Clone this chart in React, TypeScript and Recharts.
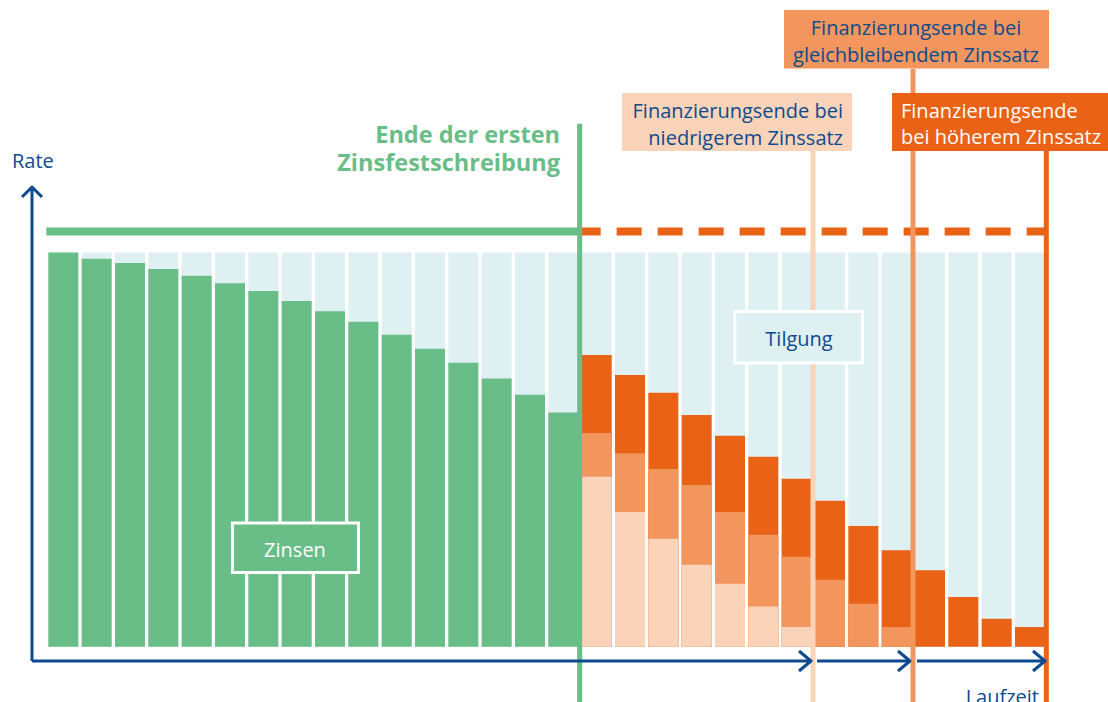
import { Bar, ComposedChart, ReferenceLine, XAxis, YAxis } from "recharts";

const BLUE = "#0d4a8f";
const GREEN = "#69bd87";
const SKY = "#dff0f3";
const ORANGE_DARK = "#e96216";
const ORANGE_MID = "#f3965d";
const ORANGE_LIGHT = "#fbd3b8";
const FONT = "'Open Sans', Lato, sans-serif";

// Jahre der Laufzeit
const YEARS = [
  "1", "2", "3", "4", "5", "6", "7", "8", "9", "10",
  "11", "12", "13", "14", "15", "16", "17", "18", "19", "20",
  "21", "22", "23", "24", "25", "26", "27", "28", "29", "30",
];

// Rate (Zinsen + Tilgung) = 100 je Jahr
const RATE = [
  100, 100, 100, 100, 100, 100, 100, 100, 100, 100,
  100, 100, 100, 100, 100, 100, 100, 100, 100, 100,
  100, 100, 100, 100, 100, 100, 100, 100, 100, 100,
];

// Zinsanteil bis Ende der ersten Zinsfestschreibung
const ZINSEN = [
  100, 98.4, 97.3, 95.8, 94.1, 92.2, 90.2, 87.7, 85.1, 82.4,
  79.1, 75.6, 72.0, 68.0, 63.9, 59.4, null, null, null, null,
  null, null, null, null, null, null, null, null, null, null,
];

// Zinsanteil nach Anschlussfinanzierung
const ZINS_HOCH = [
  null, null, null, null, null, null, null, null, null, null,
  null, null, null, null, null, null, 74.0, 68.9, 64.4, 58.8,
  53.5, 48.2, 42.6, 37.0, 30.6, 24.5, 19.4, 12.6, 7.1, 5.0,
];
const ZINS_GLEICH = [
  null, null, null, null, null, null, null, null, null, null,
  null, null, null, null, null, null, 54.2, 49.1, 45.1, 41.0,
  34.2, 28.4, 22.8, 17.0, 10.9, 5.0, null, null, null, null,
];
const ZINS_NIEDRIG = [
  null, null, null, null, null, null, null, null, null, null,
  null, null, null, null, null, null, 43.1, 34.2, 27.4, 20.8,
  16.0, 10.2, 5.0, null, null, null, null, null, null, null,
];

const RATE_LEVEL = 105.3;
const FIRST = "1";
const FIX_END = "16";
const END_LOW = "23";
const END_SAME = "26";
const END_HIGH = "30";

const data = YEARS.map((year, i) => ({
  year,
  rate: RATE[i],
  zinsen: ZINSEN[i],
  hoch: ZINS_HOCH[i],
  gleich: ZINS_GLEICH[i],
  niedrig: ZINS_NIEDRIG[i],
}));

function Overlay() {
  const txt = { fontFamily: FONT, fontSize: 20 };
  return (
    <svg
      width={1108}
      height={702}
      style={{ position: "absolute", left: 0, top: 0, pointerEvents: "none" }}
    >
      {/* Achsen */}
      <g stroke={BLUE} strokeWidth={3} fill="none" strokeLinejoin="round">
        <path d="M32,661 L32,187 M22,197 L32,187 L42,197" />
        <path d="M32,661 L811,661 M799,651 L811,661 L799,671" />
        <path d="M817,661 L910,661 M898,651 L910,661 L898,671" />
        <path d="M917,661 L1045,661 M1033,651 L1045,661 L1033,671" />
      </g>
      <text x={12} y={168} fill={BLUE} {...txt}>Rate</text>
      <text x={1039} y={704} fill={BLUE} textAnchor="end" {...txt}>Laufzeit</text>

      <g fill={GREEN} fontFamily={FONT} fontSize={23.5} fontWeight={700} textAnchor="end">
        <text x={560} y={143}>Ende der ersten</text>
        <text x={560} y={171}>Zinsfestschreibung</text>
      </g>

      <rect x={622} y={93} width={230} height={58} fill={ORANGE_LIGHT} />
      <g fill={BLUE} textAnchor="end" {...txt}>
        <text x={843} y={118}>Finanzierungsende bei</text>
        <text x={843} y={144.5}>niedrigerem Zinssatz</text>
      </g>

      <rect x={784} y={10} width={265} height={58.5} fill={ORANGE_MID} />
      <g fill={BLUE} textAnchor="middle" {...txt}>
        <text x={916} y={34.5}>Finanzierungsende bei</text>
        <text x={916} y={61.5}>gleichbleibendem Zinssatz</text>
      </g>

      <rect x={892} y={93} width={216} height={58} fill={ORANGE_DARK} />
      <g fill="#ffffff" {...txt}>
        <text x={901} y={117.5}>Finanzierungsende</text>
        <text x={901} y={143.5}>bei höherem Zinssatz</text>
      </g>

      <rect x={232.5} y={523} width={126} height={49.5} fill={GREEN} stroke="#ffffff" strokeWidth={3} />
      <text x={295} y={557} fill="#ffffff" textAnchor="middle" {...txt}>Zinsen</text>

      <rect x={734.8} y={311.5} width={127.7} height={51.3} fill={SKY} stroke="#ffffff" strokeWidth={3} />
      <text x={799} y={345.5} fill={BLUE} textAnchor="middle" {...txt}>Tilgung</text>
    </svg>
  );
}

export default function App() {
  return (
    <div style={{ position: "absolute", left: 0, top: 0, width: 1108, height: 702, background: "#fff" }}>
      <ComposedChart
        width={1108}
        height={702}
        data={data}
        margin={{ top: 0, right: 61.67, bottom: 0, left: 46.33 }}
      >
        <XAxis xAxisId="bg" dataKey="year" hide />
        <XAxis xAxisId="z" dataKey="year" hide />
        <XAxis xAxisId="hi" dataKey="year" hide />
        <XAxis xAxisId="mid" dataKey="year" hide />
        <XAxis xAxisId="lo" dataKey="year" hide />
        <YAxis domain={[-14, 164]} allowDataOverflow hide />

        <Bar xAxisId="bg" dataKey="rate" fill={SKY} barSize={30} isAnimationActive={false} />
        <Bar xAxisId="z" dataKey="zinsen" fill={GREEN} barSize={30} isAnimationActive={false} />
        <Bar xAxisId="hi" dataKey="hoch" fill={ORANGE_DARK} barSize={30} isAnimationActive={false} />
        <Bar xAxisId="mid" dataKey="gleich" fill={ORANGE_MID} barSize={30} isAnimationActive={false} />
        <Bar xAxisId="lo" dataKey="niedrig" fill={ORANGE_LIGHT} barSize={30} isAnimationActive={false} />

        {/* Rate: fest bis Ende der Zinsbindung, danach offen */}
        <ReferenceLine
          xAxisId="bg"
          position="start"
          segment={[{ x: FIRST, y: RATE_LEVEL }, { x: "17", y: RATE_LEVEL }]}
          stroke={GREEN}
          strokeWidth={8}
          ifOverflow="visible"
        />
        <ReferenceLine
          xAxisId="bg"
          position="end"
          segment={[{ x: FIX_END, y: RATE_LEVEL }, { x: END_HIGH, y: RATE_LEVEL }]}
          stroke={ORANGE_DARK}
          strokeWidth={8}
          strokeDasharray="25 16"
          strokeDashoffset={4}
          ifOverflow="visible"
        />

        <ReferenceLine
          xAxisId="bg"
          position="end"
          segment={[{ x: END_LOW, y: -14 }, { x: END_LOW, y: 125.7 }]}
          stroke={ORANGE_LIGHT}
          strokeWidth={5}
          ifOverflow="visible"
        />
        <ReferenceLine
          xAxisId="bg"
          position="end"
          segment={[{ x: END_SAME, y: -14 }, { x: END_SAME, y: 146.5 }]}
          stroke={ORANGE_MID}
          strokeWidth={5}
          ifOverflow="visible"
        />
        <ReferenceLine
          xAxisId="bg"
          position="end"
          segment={[{ x: END_HIGH, y: -14 }, { x: END_HIGH, y: 125.7 }]}
          stroke={ORANGE_DARK}
          strokeWidth={5}
          ifOverflow="visible"
        />
        <ReferenceLine
          xAxisId="bg"
          position="end"
          segment={[{ x: FIX_END, y: -14 }, { x: FIX_END, y: 132.6 }]}
          stroke={GREEN}
          strokeWidth={5}
          ifOverflow="visible"
        />
      </ComposedChart>
      <Overlay />
    </div>
  );
}
